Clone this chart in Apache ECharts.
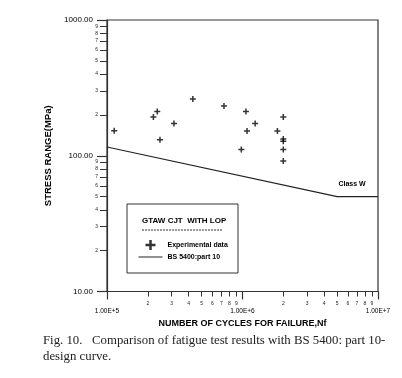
<!DOCTYPE html>
<html>
<head>
<meta charset="utf-8">
<script src="https://cdn.jsdelivr.net/npm/echarts@6/dist/echarts.min.js"></script>
<style>
  html, body { margin: 0; padding: 0; background: #fff; }
  #chart { width: 402px; height: 378px; }
</style>
</head>
<body>
<div id="chart"></div>
<script>
  // experimental data (cycles, stress range MPa)
  var cyclesN = [1.13e5, 2.2e5, 2.35e5, 2.46e5, 3.12e5, 4.3e5, 7.3e5, 9.8e5, 1.06e6, 1.08e6, 1.24e6, 1.81e6, 2e6, 2e6, 2e6, 2e6, 2e6]
  var stressS = [153, 193, 212, 131, 173, 262, 233, 111, 212, 152, 173, 152, 193, 133, 128, 111, 91.5]

  // BS 5400 part 10 class W design curve
  var curveN = [1e5, 5e6, 1e7]
  var curveS = [116, 50, 50]

  // tick values
  var xMajor = [1e5, 1e6, 1e7]
  var xMinor = [2e5, 3e5, 4e5, 5e5, 6e5, 7e5, 8e5, 9e5, 2e6, 3e6, 4e6, 5e6, 6e6, 7e6, 8e6, 9e6]
  var yMajor = [10, 100, 1000]
  var yMinor = [20, 30, 40, 50, 60, 70, 80, 90, 200, 300, 400, 500, 600, 700, 800, 900]

  var lg = function (v) { return Math.log10(v) }
  var digit = function (v) { return Math.round(Math.pow(10, v - Math.floor(v + 1e-9))) }
  var font = 'Liberation Sans'
  var plus = 'path://M3,0h2v3h3v2h-3v3h-2v-3h-3v-2h3z'
  var axisColor = '#333'

  var chart = echarts.init(document.getElementById('chart'))

  var options = {
    animation: false,
    textStyle: { fontFamily: font },
    grid: {
      show: true,
      left: 107,
      right: 24,
      top: 20,
      bottom: 86.5,
      borderColor: axisColor,
      borderWidth: 1.2
    },
    legend: {
      orient: 'vertical',
      left: 138,
      top: 240,
      padding: 0,
      itemWidth: 24,
      itemHeight: 10,
      itemGap: 3,
      textStyle: { fontSize: 7, fontWeight: 'bold', color: '#000', fontFamily: font },
      data: [
        { name: 'Experimental data', icon: plus },
        { name: 'BS 5400:part 10', itemStyle: { opacity: 0 }, lineStyle: { width: 1 } }
      ]
    },
    xAxis: [{
      type: 'value',
      min: 5,
      max: 7,
      position: 'bottom',
      name: 'NUMBER OF CYCLES FOR FAILURE,Nf',
      nameLocation: 'middle',
      nameGap: 24,
      nameTextStyle: { fontSize: 9, fontWeight: 'bold', color: '#000', fontFamily: font },
      axisLine: { onZero: false, lineStyle: { color: axisColor, width: 1.2 } },
      axisTick: { customValues: xMajor.map(lg), length: 8, lineStyle: { color: axisColor, width: 1.2 } },
      axisLabel: {
        customValues: xMajor.map(lg),
        margin: 16,
        fontSize: 6.5,
        color: '#000',
        formatter: function (v) { return '1.00E+' + Math.round(v) }
      },
      splitLine: { show: false }
    }, {
      type: 'value',
      min: 5,
      max: 7,
      position: 'bottom',
      axisLine: { show: false },
      axisTick: { customValues: xMinor.map(lg), length: 5, lineStyle: { color: axisColor } },
      axisLabel: {
        customValues: xMinor.map(lg),
        margin: 10,
        fontSize: 5,
        color: '#222',
        formatter: digit
      },
      splitLine: { show: false }
    }],
    yAxis: [{
      type: 'value',
      min: 1,
      max: 3,
      position: 'left',
      name: 'STRESS RANGE(MPa)',
      nameLocation: 'middle',
      nameGap: 54,
      nameTextStyle: { fontSize: 9.5, fontWeight: 'bold', color: '#000', fontFamily: font },
      axisLine: { show: true, onZero: false, lineStyle: { color: axisColor, width: 1.2 } },
      axisTick: { show: true, customValues: yMajor.map(lg), length: 10, lineStyle: { color: axisColor, width: 1.2 } },
      axisLabel: {
        customValues: yMajor.map(lg),
        margin: 14,
        fontSize: 8,
        color: '#000',
        formatter: function (v) { return Math.pow(10, Math.round(v)).toFixed(2) }
      },
      splitLine: { show: false }
    }, {
      type: 'value',
      min: 1,
      max: 3,
      position: 'left',
      axisLine: { show: false },
      axisTick: { show: true, customValues: yMinor.map(lg), length: 7, lineStyle: { color: axisColor } },
      axisLabel: {
        customValues: yMinor.map(lg),
        margin: 9,
        fontSize: 5,
        color: '#222',
        formatter: digit
      },
      splitLine: { show: false }
    }],
    series: [{
      name: 'Experimental data',
      type: 'scatter',
      symbol: plus,
      symbolSize: 6,
      itemStyle: { color: '#000' },
      data: cyclesN.map(function (n, i) { return [lg(n), lg(stressS[i])] })
    }, {
      name: 'BS 5400:part 10',
      type: 'line',
      symbol: 'none',
      lineStyle: { color: '#222', width: 1.2 },
      itemStyle: { color: '#222' },
      data: curveN.map(function (n, i) { return [lg(n), lg(curveS[i])] })
    }],
    graphic: [
      {
        type: 'rect',
        shape: { x: 127, y: 204, width: 111, height: 69 },
        style: { fill: 'none', stroke: axisColor, lineWidth: 1 }
      },
      {
        type: 'text',
        x: 142, y: 221,
        style: { text: 'GTAW CJT  WITH LOP', font: 'bold 8px "Liberation Sans"', fill: '#000', verticalAlign: 'middle' }
      },
      {
        type: 'line',
        shape: { x1: 142, y1: 230, x2: 223, y2: 230 },
        style: { stroke: '#333', lineWidth: 1, lineDash: [2, 1] }
      },
      {
        type: 'text',
        x: 352, y: 184,
        style: { text: 'Class W', font: 'bold 7px "Liberation Sans"', fill: '#000', align: 'center', verticalAlign: 'middle' }
      },
      {
        type: 'text',
        x: 43, y: 341,
        style: { text: 'Fig. 10.   Comparison of fatigue test results with BS 5400: part 10-', font: '12.8px "Liberation Serif"', fill: '#222', verticalAlign: 'middle' }
      },
      {
        type: 'text',
        x: 43, y: 357,
        style: { text: 'design curve.', font: '12.8px "Liberation Serif"', fill: '#222', verticalAlign: 'middle' }
      }
    ]
  }

  chart.setOption(options, true)
</script>
</body>
</html>
